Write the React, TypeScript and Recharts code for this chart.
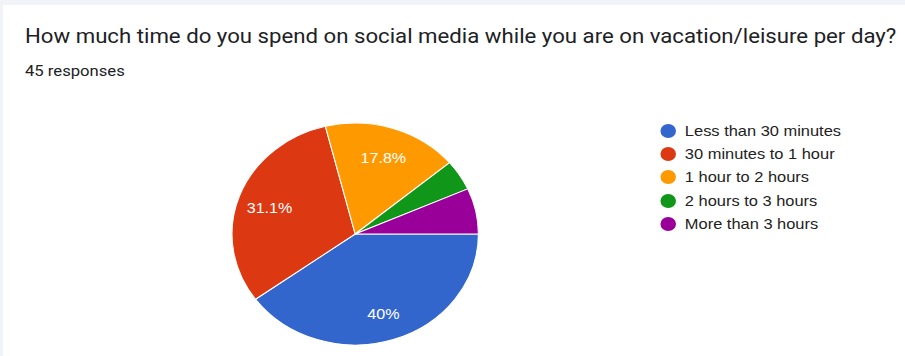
import { PieChart, Pie, Cell, Legend } from "recharts";

const categories = [
  "Less than 30 minutes",
  "30 minutes to 1 hour",
  "1 hour to 2 hours",
  "2 hours to 3 hours",
  "More than 3 hours",
];
const responses = [18, 14, 8, 2, 3];
const colors = ["#3366cc", "#dc3912", "#ff9900", "#109618", "#990099"];

const data = categories.map((name, i) => ({ name, value: responses[i] }));
const total = responses.reduce((a, b) => a + b, 0);

// the screenshot is stretched sideways, so everything is drawn narrower and scaled back
const STRETCH = 1.11;
const RAD = Math.PI / 180;

function SliceLabel(props: any) {
  const { cx, cy, midAngle, outerRadius, value } = props;
  const pct = (value / total) * 100;
  if (pct < 10) return null;
  const r = outerRadius * 0.74;
  const x = cx + r * Math.cos(-midAngle * RAD);
  const y = cy + r * Math.sin(-midAngle * RAD);
  const rounded = Math.round(pct * 10) / 10;
  const text = Number.isInteger(rounded) ? `${rounded}%` : `${rounded.toFixed(1)}%`;
  return (
    <text x={x} y={y + 2} fill="#ffffff" fontSize={14.5} fontFamily="Liberation Sans, Arial, sans-serif" textAnchor="middle" dominantBaseline="central">
      {text}
    </text>
  );
}

function LegendList() {
  return (
    <div style={{ fontFamily: "Liberation Sans, Arial, sans-serif", fontSize: 14.8, color: "#222" }}>
      {categories.map((c, i) => (
        <div key={c} style={{ display: "flex", alignItems: "center", height: 23.4 }}>
          <span style={{ width: 14, height: 14, borderRadius: "50%", backgroundColor: colors[i], display: "inline-block", marginRight: 8 }} />
          <span>{c}</span>
        </div>
      ))}
    </div>
  );
}

export default function App() {
  const W = 905 / STRETCH;
  return (
    <div style={{ position: "absolute", left: 0, top: 0, width: 905, height: 356, backgroundColor: "#f1f3f8", overflow: "hidden" }}>
      <div style={{ position: "absolute", left: 3, top: 5, right: 0, bottom: 0, backgroundColor: "#ffffff" }} />
      <div style={{ position: "absolute", left: 0, top: 0, width: W, height: 356, transform: `scaleX(${STRETCH})`, transformOrigin: "0 0" }}>
        <div style={{ position: "absolute", left: 22.5, top: 24, fontFamily: "Roboto, sans-serif", fontSize: 20, color: "#202124", whiteSpace: "nowrap" }}>
          How much time do you spend on social media while you are on vacation/leisure per day?
        </div>
        <div style={{ position: "absolute", left: 22.5, top: 62, fontFamily: "Roboto, sans-serif", fontSize: 15, color: "#202124", whiteSpace: "nowrap" }}>
          45 responses
        </div>
        <div style={{ position: "absolute", left: 0, top: 0 }}>
          <PieChart width={W} height={356} margin={{ top: 0, right: 0, bottom: 0, left: 0 }}>
            <Pie
              data={data}
              dataKey="value"
              nameKey="name"
              cx={320}
              cy={234}
              outerRadius={111}
              startAngle={0}
              endAngle={-360}
              stroke="#ffffff"
              strokeWidth={1}
              label={SliceLabel}
              labelLine={false}
              isAnimationActive={false}
            >
              {data.map((d, i) => (
                <Cell key={d.name} fill={colors[i]} />
              ))}
            </Pie>
            <Legend
              content={<LegendList />}
              wrapperStyle={{ position: "absolute", left: 595, top: 119, width: 200 }}
            />
          </PieChart>
        </div>
      </div>
    </div>
  );
}
